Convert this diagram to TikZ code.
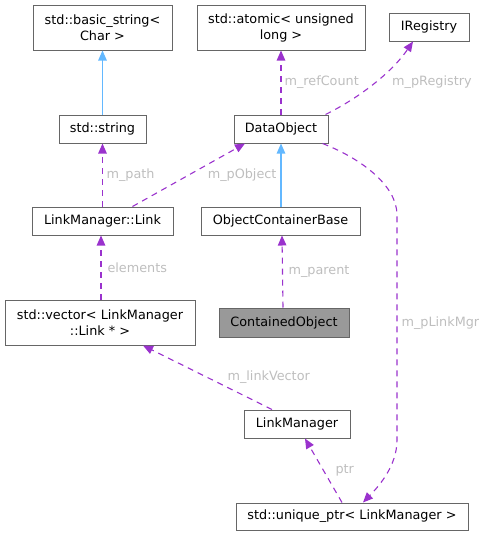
\documentclass[tikz,border=0pt]{standalone}
\usepackage{fontspec}
\setmainfont{DejaVu Sans}
\usetikzlibrary{positioning}
\usetikzlibrary{arrows.meta}
\definecolor{edgepurple}{HTML}{9A32CD}
\definecolor{edgeblue}{HTML}{63B8FF}
\definecolor{boxline}{HTML}{666666}
\definecolor{lblgray}{HTML}{BEBEBE}
\definecolor{curfill}{HTML}{999999}

\begin{document}
\begin{tikzpicture}[
    x=1pt,y=-1pt,
    font=\fontsize{12.8}{16}\selectfont,
    cls/.style={rectangle,draw=boxline,line width=1pt,fill=white,inner sep=0pt,
                minimum height=28pt,text centered,align=center},
    cur/.style={cls,fill=curfill},
    arr/.style={line width=1.1pt,-{Triangle[length=10pt,width=8.5pt]}},
    inh/.style={arr,color=edgeblue},
    use/.style={arr,color=edgepurple,dash pattern=on 6pt off 5pt},
    lbl/.style={text=lblgray,anchor=west,inner sep=0pt}
    ]
    \useasboundingbox (0,0) rectangle (487,536);
    \node (bstr) [cls,minimum width=139pt,minimum height=45pt] at (102.5,27.5) {std::basic\_string<\\Char >};
    \node (atom) [cls,minimum width=168pt,minimum height=45pt] at (281,27.5) {std::atomic< unsigned\\long >};
    \node (ireg) [cls,minimum width=80pt] at (429,27) {IRegistry};
    \node (str) [cls,minimum width=87pt] at (102.5,129) {std::string};
    \node (dobj) [cls,minimum width=94pt] at (281,129) {DataObject};
    \node (link) [cls,minimum width=141pt] at (102.5,221) {LinkManager::Link};
    \node (ocb) [cls,minimum width=159pt] at (280.5,221) {ObjectContainerBase};
    \node (vec) [cls,minimum width=190pt,minimum height=45pt] at (100,322.5) {std::vector< LinkManager\\::Link * >};
    \node (cobj) [cur,minimum width=130pt,minimum height=29pt] at (284,322.5) {ContainedObject};
    \node (lmgr) [cls,minimum width=106pt] at (297,424) {LinkManager};
    \node (uptr) [cls,minimum width=232pt,minimum height=27pt] at (352,516.5) {std::unique\_ptr< LinkManager >};
    \draw[inh] (str) -- (bstr);
    \draw[inh] (dobj.south |- ocb.north) -- (dobj.south);
    \draw[use] (dobj) -- node[lbl,xshift=3pt] {m\_refCount} (atom);
    \draw[use] ([xshift=-3pt]dobj.north east) .. controls (355,100) and (390,75) .. node[lbl,xshift=20pt,yshift=2.5pt] {m\_pRegistry} ([xshift=-16pt]ireg.south);
    \draw[use] (link) -- node[lbl,xshift=3.5pt] {m\_path} (str);
    \draw[use] ([xshift=30pt]link.north) -- node[lbl,xshift=18.5pt] {m\_pObject} ([xshift=-36pt]dobj.south);
    \draw[use] ([xshift=1pt]vec.north) -- node[lbl,xshift=6pt] {elements} ([xshift=-1.5pt]link.south);
    \draw[use] ([xshift=-1pt]cobj.north) -- node[lbl,xshift=5.5pt] {m\_parent} ([xshift=1.5pt]ocb.south);
    \draw[use] ([xshift=-6pt]dobj.south east) .. controls (360,158) and (397,185) .. (397,215) -- node[lbl,xshift=4pt,yshift=4.5pt] {m\_pLinkMgr} (397,440) .. controls (397,465) and (380,485) .. ([xshift=11pt]uptr.north);
    \draw[use] ([xshift=-25pt]lmgr.north) -- node[lbl,xshift=19.5pt] {m\_linkVector} ([xshift=43pt]vec.south);
    \draw[use] ([xshift=-10pt]uptr.north) -- node[lbl,xshift=11.5pt] {ptr} ([xshift=8pt]lmgr.south);
  \end{tikzpicture}
\end{document}
